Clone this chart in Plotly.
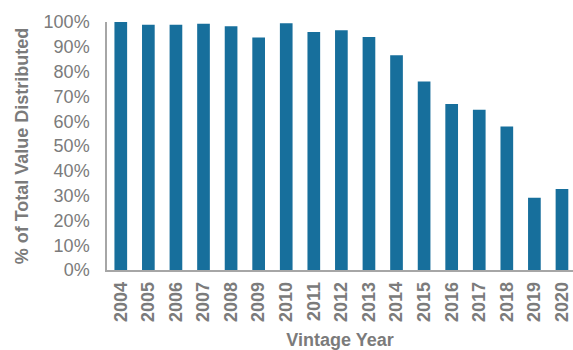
import plotly.graph_objects as go

years = ["2004", "2005", "2006", "2007", "2008", "2009", "2010", "2011", "2012",
         "2013", "2014", "2015", "2016", "2017", "2018", "2019", "2020"]
pct_distributed = [1.000, 0.989, 0.989, 0.993, 0.983, 0.937, 0.995, 0.960, 0.967,
                   0.940, 0.866, 0.760, 0.669, 0.646, 0.579, 0.291, 0.327]

bar_color = "#176f9c"
text_gray = "#7b7b7b"
axis_gray = "#a6a6a6"
font_family = "Liberation Sans, Arial, sans-serif"

fig = go.Figure(go.Bar(
    x=years,
    y=pct_distributed,
    marker=dict(color=bar_color, line=dict(width=0)),
))

fig.update_layout(
    width=573,
    height=350,
    margin=dict(l=107, r=0, t=22, b=80),
    paper_bgcolor="white",
    plot_bgcolor="white",
    bargap=0.54,
    showlegend=False,
    font=dict(family=font_family, color=text_gray),
)

fig.update_xaxes(
    type="category",
    range=[-0.5, 16.4],
    showline=True,
    linecolor=axis_gray,
    linewidth=1.5,
    showgrid=False,
    ticks="",
    tickangle=-90,
    ticklabelstandoff=3,
    tickfont=dict(size=18, color=text_gray, family=font_family, weight="bold"),
    title=dict(text="<b>Vintage Year</b>", font=dict(size=18, color=text_gray), standoff=14),
)

fig.update_yaxes(
    range=[0, 1.0],
    tickvals=[i / 10 for i in range(11)],
    tickformat=".0%",
    showline=True,
    linecolor=axis_gray,
    linewidth=1.5,
    showgrid=False,
    zeroline=False,
    ticks="",
    ticklabelstandoff=12,
    tickfont=dict(size=18, color=text_gray),
    title=dict(text="<b>% of Total Value Distributed</b>", font=dict(size=18, color=text_gray), standoff=10),
)

fig.write_html("out.html")
